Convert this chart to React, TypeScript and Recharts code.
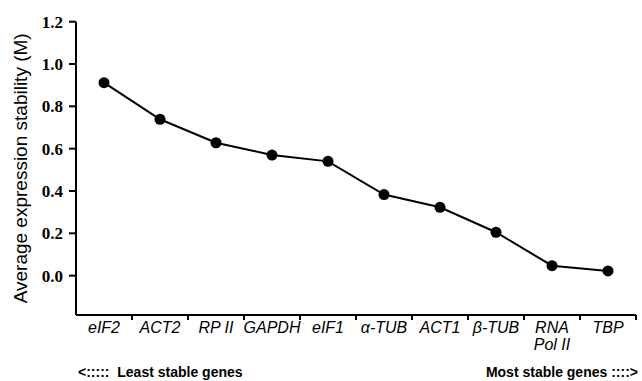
import React from "react";
import { LineChart, Line, XAxis, YAxis, Label } from "recharts";

const genes = ["eIF2", "ACT2", "RP II", "GAPDH", "eIF1", "α-TUB", "ACT1", "β-TUB", "RNA Pol II", "TBP"];
const stability = [0.912, 0.739, 0.628, 0.57, 0.54, 0.383, 0.323, 0.205, 0.047, 0.022];
const yTicks = [0, 0.2, 0.4, 0.6, 0.8, 1.0, 1.2];
const boundaryTicks = [1, 2, 3, 4, 5, 6, 7, 8, 9, 10];

const data = genes.map((gene, i) => ({ pos: i + 0.5, gene, m: stability[i] }));

const labelFont = "'Liberation Sans', Arial, sans-serif";
const serifFont = "'Liberation Serif', 'Times New Roman', 'DejaVu Serif', serif";

// x ticks sit on category boundaries, labels are centred in the band to the left
function renderGeneTick(props: any) {
  const { x, y, payload, width } = props;
  const idx = payload.value - 1;
  const half = (width || 560) / genes.length / 2;
  const name = genes[idx];
  const lines = name === "RNA Pol II" ? ["RNA", "Pol II"] : [name];
  return (
    <g key={"gx" + payload.value}>
      <line x1={x} x2={x} y1={y} y2={y + 5} stroke="#000" strokeWidth={2} />
      <text
        x={x - half}
        y={y}
        textAnchor="middle"
        style={{ fontFamily: labelFont, fontStyle: "italic", fontSize: 16, fill: "#000" }}
      >
        {lines.map((l, i) => (
          <tspan key={i} x={x - half} dy={i === 0 ? 18 : 17}>
            {l}
          </tspan>
        ))}
      </text>
    </g>
  );
}

function renderValueTick(props: any) {
  const { x, y, payload } = props;
  return (
    <g key={"gy" + payload.value}>
      <line x1={x - 7} x2={x} y1={y} y2={y} stroke="#000" strokeWidth={2} />
      <text
        x={x - 13}
        y={y + 6}
        textAnchor="end"
        style={{ fontFamily: serifFont, fontWeight: 700, fontSize: 17, fill: "#000" }}
      >
        {Number(payload.value).toFixed(1)}
      </text>
    </g>
  );
}

export default function App() {
  return (
    <div style={{ position: "absolute", left: 0, top: 0, width: 642, height: 381, background: "#fff" }}>
      <LineChart width={642} height={381} data={data} margin={{ top: 21.7, right: 6, left: 16, bottom: 6 }}>
        <XAxis
          type="number"
          dataKey="pos"
          domain={[0, 10]}
          ticks={boundaryTicks}
          interval={0}
          height={60}
          tickSize={0}
          tickMargin={0}
          tickLine={false}
          axisLine={{ stroke: "#000", strokeWidth: 2 }}
          tick={renderGeneTick}
        />
        <YAxis
          type="number"
          domain={[-0.186, 1.2]}
          ticks={yTicks}
          interval={0}
          width={60}
          tickSize={0}
          tickMargin={0}
          tickLine={false}
          axisLine={{ stroke: "#000", strokeWidth: 2 }}
          tick={renderValueTick}
        >
          <Label
            value="Average expression stability (M)"
            angle={-90}
            position="insideLeft"
            offset={4}
            style={{ textAnchor: "middle", fontFamily: labelFont, fontSize: 19, fill: "#000" }}
          />
        </YAxis>
        <Line
          type="linear"
          dataKey="m"
          stroke="#000"
          strokeWidth={2}
          dot={{ r: 5.5, fill: "#000", stroke: "#000", strokeWidth: 0 }}
          activeDot={false}
          isAnimationActive={false}
        />
      </LineChart>
      <div
        style={{
          position: "absolute",
          left: 78,
          top: 364,
          fontFamily: labelFont,
          fontWeight: "bold",
          fontSize: 14,
          lineHeight: "16px",
          whiteSpace: "pre",
          color: "#000",
        }}
      >
        {"<:::::  Least stable genes"}
      </div>
      <div
        style={{
          position: "absolute",
          right: 4,
          top: 364,
          fontFamily: labelFont,
          fontWeight: "bold",
          fontSize: 14,
          lineHeight: "16px",
          whiteSpace: "pre",
          color: "#000",
        }}
      >
        {"Most stable genes ::::>"}
      </div>
    </div>
  );
}
